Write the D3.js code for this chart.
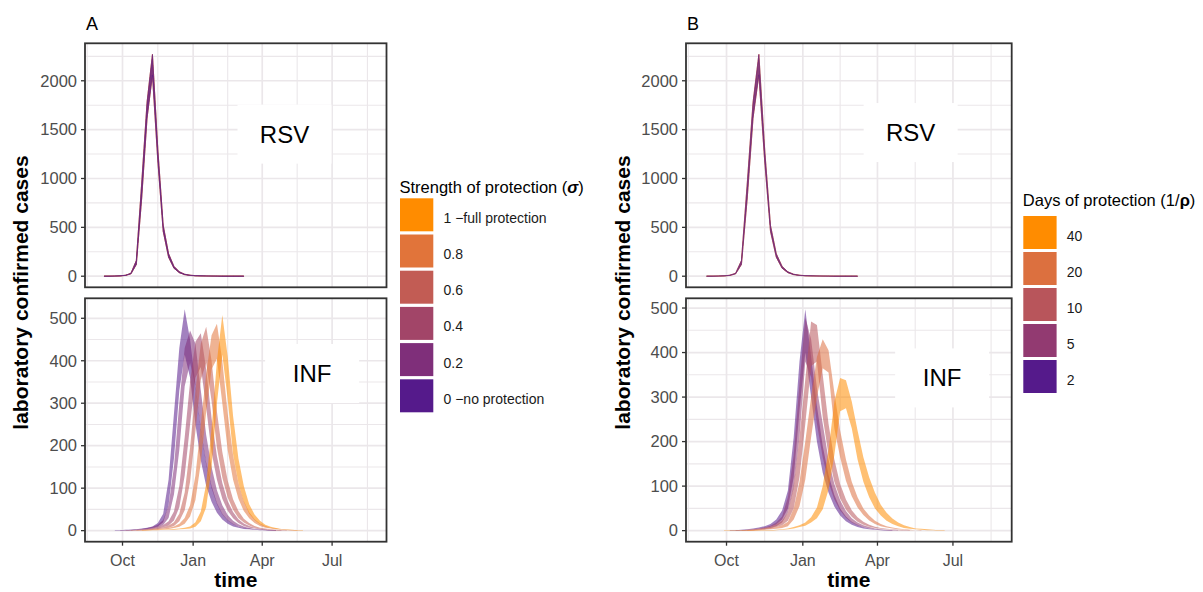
<!DOCTYPE html>
<html>
<head>
<meta charset="utf-8">
<script src="https://cdn.jsdelivr.net/npm/d3@7"></script>
<style>
  body { margin: 0; background: #fff; }
  svg { display: block; font-family: "Liberation Sans", Arial, Helvetica, sans-serif; }
</style>
</head>
<body>
<svg id="chart" width="1203" height="592"></svg>
<script>
// weekly time grid: 31 Aug 2016 .. 23 Aug 2017 (52 weeks)
const weeks = d3.timeDay.range(new Date(2016, 7, 31), new Date(2017, 7, 24), 7);

// RSV (same in every scenario), upper / lower band
const rsvHi = [0,1,1,2,4,10,30,160,950,1780,2270,1300,520,
  230,100,45,20,10,6,4,3,2,1,1,1,1,
  1,1,0,0,0,0,0,0,0,0,0,0,0,
  0,0,0,0,0,0,0,0,0,0,0,0,0];
const rsvLo = [0,0,0,1,3,8,24,120,800,1620,2060,1180,460,
  195,82,36,16,8,4,3,2,1,1,0,0,0,
  0,0,0,0,0,0,0,0,0,0,0,0,0,
  0,0,0,0,0,0,0,0,0,0,0,0,0];

// panel A: strength of protection (sigma)
const sigmaLevels = [0, 0.2, 0.4, 0.6, 0.8, 1];
const sigmaLabels = ["0 \u2212no protection", "0.2", "0.4", "0.6", "0.8", "1 \u2212full protection"];

const infSigma0Hi = [0,0,0,1,1,2,2,3,5,7,10,18,40,
  120,275,430,521,450,345,240,160,105,65,40,25,16,
  10,7,5,3,2,2,1,1,0,0,0,0,0,
  0,0,0,0,0,0,0,0,0,0,0,0,0];
const infSigma0Lo = [0,0,0,0,0,1,1,2,3,4,6,10,20,
  60,170,330,415,360,250,165,105,68,42,26,16,10,
  7,4,3,2,1,1,0,0,0,0,0,0,0,
  0,0,0,0,0,0,0,0,0,0,0,0,0];
const infSigma02Hi = [0,0,0,0,1,1,2,3,4,6,9,14,25,
  60,150,300,430,471,440,330,225,150,95,60,37,23,
  15,10,6,4,3,2,1,1,0,0,0,0,0,
  0,0,0,0,0,0,0,0,0,0,0,0,0];
const infSigma02Lo = [0,0,0,0,0,0,1,2,2,3,5,8,13,
  30,85,190,340,395,340,235,155,100,62,38,24,15,
  10,6,4,3,2,1,0,0,0,0,0,0,0,
  0,0,0,0,0,0,0,0,0,0,0,0,0];
const infSigma04Hi = [0,0,0,0,0,1,1,2,3,4,6,9,13,
  22,45,105,220,350,445,465,380,265,175,112,70,44,
  27,17,11,7,5,3,2,1,1,0,0,0,0,
  0,0,0,0,0,0,0,0,0,0,0,0,0];
const infSigma04Lo = [0,0,0,0,0,0,0,1,2,2,3,5,8,
  12,24,55,130,250,360,385,290,185,120,75,47,29,
  18,11,7,5,3,2,1,0,0,0,0,0,0,
  0,0,0,0,0,0,0,0,0,0,0,0,0];
const infSigma06Hi = [0,0,0,0,0,0,1,1,2,3,4,6,8,
  12,20,40,90,195,330,440,480,400,280,185,118,74,
  46,28,18,11,7,5,3,2,1,1,0,0,0,
  0,0,0,0,0,0,0,0,0,0,0,0,0];
const infSigma06Lo = [0,0,0,0,0,0,0,0,1,2,2,3,5,
  7,11,22,48,115,235,355,395,305,195,125,78,49,
  30,19,12,7,5,3,2,1,0,0,0,0,0,
  0,0,0,0,0,0,0,0,0,0,0,0,0];
const infSigma08Hi = [0,0,0,0,0,0,0,1,1,2,3,4,5,
  7,10,16,30,60,130,250,370,460,487,400,275,178,
  112,70,43,27,17,11,7,5,3,2,1,1,0,
  0,0,0,0,0,0,0,0,0,0,0,0,0];
const infSigma08Lo = [0,0,0,0,0,0,0,0,0,1,2,2,3,
  4,6,9,16,33,72,160,280,380,405,300,190,120,
  75,46,29,18,11,7,5,3,2,1,0,0,0,
  0,0,0,0,0,0,0,0,0,0,0,0,0];
const infSigma1Hi = [0,0,0,0,0,0,0,0,1,1,2,2,3,
  3,4,5,7,10,20,45,110,240,400,508,410,270,
  170,105,62,38,23,14,9,6,4,3,2,1,1,
  0,0,0,0,0,0,0,0,0,0,0,0,0];
const infSigma1Lo = [0,0,0,0,0,0,0,0,0,0,1,1,2,
  2,2,3,4,5,9,22,55,150,300,415,310,180,
  112,68,40,25,15,9,6,4,3,2,1,0,0,
  0,0,0,0,0,0,0,0,0,0,0,0,0];

// panel B: days of protection (1/rho)
const daysLevels = [2, 5, 10, 20, 40];

const infDays2Hi = [0,0,0,0,0,1,1,2,3,5,7,10,15,
  25,45,90,210,380,497,390,280,190,125,80,50,32,
  20,13,8,5,3,2,1,1,0,0,0,0,0,
  0,0,0,0,0,0,0,0,0,0,0,0,0];
const infDays2Lo = [0,0,0,0,0,0,0,1,2,3,4,6,9,
  14,25,50,120,270,400,300,200,130,85,54,34,21,
  13,8,5,3,2,1,0,0,0,0,0,0,0,
  0,0,0,0,0,0,0,0,0,0,0,0,0];
const infDays5Hi = [0,0,0,0,0,0,1,1,2,3,5,7,11,
  18,32,75,170,330,478,430,320,240,160,105,68,44,
  28,18,12,8,5,3,2,1,1,0,0,0,0,
  0,0,0,0,0,0,0,0,0,0,0,0,0];
const infDays5Lo = [0,0,0,0,0,0,0,0,1,2,3,4,6,
  10,18,40,95,210,380,345,240,165,108,70,45,29,
  18,12,8,5,3,2,1,0,0,0,0,0,0,
  0,0,0,0,0,0,0,0,0,0,0,0,0];
const infDays10Hi = [0,0,0,0,0,0,0,1,2,3,4,6,9,
  14,22,40,100,210,340,470,462,350,240,160,105,70,
  46,30,20,13,9,6,4,3,2,1,1,0,0,
  0,0,0,0,0,0,0,0,0,0,0,0,0];
const infDays10Lo = [0,0,0,0,0,0,0,0,0,1,2,3,5,
  8,12,22,50,120,240,370,380,255,170,110,72,47,
  31,20,13,9,6,4,3,2,1,0,0,0,0,
  0,0,0,0,0,0,0,0,0,0,0,0,0];
const infDays20Hi = [0,0,0,0,0,0,0,0,1,2,3,4,6,
  8,12,20,50,110,200,300,390,430,405,310,225,160,
  110,75,50,34,22,15,10,7,5,3,2,1,1,
  0,0,0,0,0,0,0,0,0,0,0,0,0];
const infDays20Lo = [0,0,0,0,0,0,0,0,0,0,1,2,3,
  4,6,10,25,55,115,210,300,365,355,230,165,112,
  77,52,35,23,15,10,7,5,3,2,1,1,0,
  0,0,0,0,0,0,0,0,0,0,0,0,0];
const infDays40Hi = [0,0,0,0,1,1,1,1,1,1,1,1,1,
  2,3,5,8,12,18,30,52,100,180,290,343,338,
  290,225,165,120,85,58,40,27,18,12,8,5,4,
  3,2,1,1,0,0,0,0,0,0,0,0,0];
const infDays40Lo = [0,0,0,0,0,0,0,0,0,0,0,0,0,
  1,2,3,5,8,11,18,28,48,92,170,268,275,
  230,160,110,75,50,34,22,15,10,6,4,3,2,
  1,1,0,0,0,0,0,0,0,0,0,0,0];

const infSigmaHi = [infSigma0Hi, infSigma02Hi, infSigma04Hi, infSigma06Hi, infSigma08Hi, infSigma1Hi];
const infSigmaLo = [infSigma0Lo, infSigma02Lo, infSigma04Lo, infSigma06Lo, infSigma08Lo, infSigma1Lo];
const infDaysHi = [infDays2Hi, infDays5Hi, infDays10Hi, infDays20Hi, infDays40Hi];
const infDaysLo = [infDays2Lo, infDays5Lo, infDays10Lo, infDays20Lo, infDays40Lo];

// facet label anchors (date, value)
const labelSpots = {
  A: { RSV: [new Date(2017, 3, 30), 1454], INF: [new Date(2017, 5, 5), 370] },
  B: { RSV: [new Date(2017, 4, 11), 1470], INF: [new Date(2017, 5, 18), 343] }
};

const sigmaColour = d3.scaleLinear().domain([0, 1]).range(["#551A8B", "#FF8C00"]).interpolate(d3.interpolateLab);
const daysColour = d3.scaleLog().domain([2, 40]).range(["#551A8B", "#FF8C00"]).interpolate(d3.interpolateLab);

const svg = d3.select("#chart");
const gridColour = "#EBE7EA";
const rowTop = [43.3, 287.3];
const rowBottom = [298.3, 541.7];

const ext = d3.extent(weeks);
const pad = (ext[1] - ext[0]) * 0.05;
const xDomain = [new Date(+ext[0] - pad), new Date(+ext[1] + pad)];

function toSeries(hi, lo) {
  return weeks.map((d, i) => ({ date: d, hi: hi[i], lo: lo[i] }));
}

function drawPanel(x, rows, ribbons, isTop, spot, name, left, right) {
  const [top, bottom] = rows;
  const maxVal = d3.max(ribbons, (r) => d3.max(r.data, (d) => d.hi));
  const y = d3.scaleLinear().domain([-0.05 * maxVal, 1.05 * maxVal]).range([bottom, top]);
  const g = svg.append("g");

  const yTicks = y.ticks(5);
  const step = yTicks[1] - yTicks[0];
  const yMinor = [yTicks[0] - step / 2].concat(yTicks.map((t) => t + step / 2))
    .filter((v) => v > y.domain()[0] && v < y.domain()[1]);

  const xMajorAll = d3.timeMonth.every(3).range(new Date(2016, 6, 1), new Date(2017, 9, 2));
  const xMinor = d3.pairs(xMajorAll, (a, b) => new Date((+a + +b) / 2))
    .filter((d) => d > xDomain[0] && d < xDomain[1]);
  const xTicks = x.ticks(d3.timeMonth.every(3));

  g.selectAll(".ymin").data(yMinor).join("line")
    .attr("x1", left).attr("x2", right)
    .attr("y1", (d) => y(d)).attr("y2", (d) => y(d))
    .attr("stroke", gridColour).attr("stroke-width", 1.1);
  g.selectAll(".xmin").data(xMinor).join("line")
    .attr("x1", (d) => x(d)).attr("x2", (d) => x(d))
    .attr("y1", top).attr("y2", bottom)
    .attr("stroke", gridColour).attr("stroke-width", 1.1);
  g.append("g").selectAll("line").data(yTicks).join("line")
    .attr("x1", left).attr("x2", right)
    .attr("y1", (d) => y(d)).attr("y2", (d) => y(d))
    .attr("stroke", gridColour).attr("stroke-width", 1.7);
  g.append("g").selectAll("line").data(xTicks).join("line")
    .attr("x1", (d) => x(d)).attr("x2", (d) => x(d))
    .attr("y1", top).attr("y2", bottom)
    .attr("stroke", gridColour).attr("stroke-width", 1.7);

  const area = d3.area()
    .defined((d) => d.hi > 0)
    .x((d) => x(d.date))
    .y0((d) => y(d.lo))
    .y1((d) => y(d.hi));

  g.append("g").selectAll("path").data(ribbons).join("path")
    .attr("d", (r) => area(r.data))
    .attr("fill", (r) => r.colour)
    .attr("fill-opacity", isTop ? 0.45 : 0.55)
    .attr("stroke", (r) => (isTop ? r.colour : "none"))
    .attr("stroke-opacity", 0.35)
    .attr("stroke-width", 0.9);

  // facet label
  const cx = x(spot[0]);
  const cy = y(spot[1]);
  g.append("rect")
    .attr("x", cx - 47).attr("y", cy - 29.5)
    .attr("width", 94).attr("height", 59)
    .attr("fill", "#fff");
  g.append("text")
    .attr("x", cx).attr("y", cy + 8.5)
    .attr("text-anchor", "middle")
    .attr("font-size", 24)
    .attr("fill", "#000")
    .text(name);

  g.append("rect")
    .attr("x", left).attr("y", top)
    .attr("width", right - left).attr("height", bottom - top)
    .attr("fill", "none").attr("stroke", "#333").attr("stroke-width", 1.8);

  // y axis
  g.append("g").selectAll("line").data(yTicks).join("line")
    .attr("x1", left - 4).attr("x2", left)
    .attr("y1", (d) => y(d)).attr("y2", (d) => y(d))
    .attr("stroke", "#333").attr("stroke-width", 1.3);
  g.append("g").selectAll("text").data(yTicks).join("text")
    .attr("x", left - 8)
    .attr("y", (d) => y(d) + 5.8)
    .attr("text-anchor", "end")
    .attr("font-size", 16.5)
    .attr("fill", "#4D4D4D")
    .text((d) => d);

  if (!isTop) {
    g.append("g").selectAll("line").data(xTicks).join("line")
      .attr("x1", (d) => x(d)).attr("x2", (d) => x(d))
      .attr("y1", bottom).attr("y2", bottom + 4)
      .attr("stroke", "#333").attr("stroke-width", 1.3);
    g.append("g").selectAll("text").data(xTicks).join("text")
      .attr("x", (d) => x(d))
      .attr("y", bottom + 24.5)
      .attr("text-anchor", "middle")
      .attr("font-size", 16)
      .attr("fill", "#4D4D4D")
      .text(d3.timeFormat("%b"));
  }
}

function drawColumn(cfg) {
  const x = d3.scaleTime().domain(xDomain).range([cfg.left, cfg.right]);

  const rsvRibbons = cfg.levels.slice().reverse()
    .map((lv) => ({ colour: cfg.colour(lv), data: toSeries(rsvHi, rsvLo) }));
  const infRibbons = cfg.levels
    .map((lv, i) => ({ colour: cfg.colour(lv), data: toSeries(cfg.hi[i], cfg.lo[i]) }));

  drawPanel(x, rowTop, rsvRibbons, true, labelSpots[cfg.id].RSV, "RSV", cfg.left, cfg.right);
  drawPanel(x, rowBottom, infRibbons, false, labelSpots[cfg.id].INF, "INF", cfg.left, cfg.right);

  svg.append("text")
    .attr("x", cfg.left + 1).attr("y", 29.5)
    .attr("font-size", 18)
    .text(cfg.id);

  svg.append("text")
    .attr("transform", `translate(${cfg.yTitleX},292.5) rotate(-90)`)
    .attr("text-anchor", "middle")
    .attr("font-size", 21)
    .attr("font-weight", "bold")
    .text("laboratory confirmed cases");

  svg.append("text")
    .attr("x", (cfg.left + cfg.right) / 2).attr("y", 587)
    .attr("text-anchor", "middle")
    .attr("font-size", 21)
    .attr("font-weight", "bold")
    .text("time");

  // legend
  const lg = svg.append("g");
  const title = lg.append("text")
    .attr("x", cfg.legendX - 0.5).attr("y", cfg.legendTitleY)
    .attr("font-size", 16.5);
  title.append("tspan").text(cfg.legendTitle[0]);
  title.append("tspan").attr("font-weight", "bold").attr("font-style", cfg.symbolItalic ? "italic" : null).text(cfg.legendTitle[1]);
  title.append("tspan").text(cfg.legendTitle[2]);

  const keys = cfg.levels.map((lv, i) => ({ lv, label: cfg.labels[i] })).reverse();
  lg.selectAll("rect").data(keys).join("rect")
    .attr("x", cfg.legendX)
    .attr("y", (d, i) => cfg.keyTop + i * cfg.keyPitch)
    .attr("width", 33.3).attr("height", 33)
    .attr("fill", (d) => cfg.colour(d.lv));
  lg.selectAll(".lab").data(keys).join("text")
    .attr("x", cfg.legendX + 43.5)
    .attr("y", (d, i) => cfg.keyTop + i * cfg.keyPitch + 16.5 + 8)
    .attr("font-size", 14)
    .attr("fill", "#1a1a1a")
    .text((d) => d.label);
}

drawColumn({
  id: "A", left: 85, right: 386.5, yTitleX: 28,
  levels: sigmaLevels, labels: sigmaLabels, colour: sigmaColour,
  hi: infSigmaHi, lo: infSigmaLo,
  legendX: 400, legendTitleY: 192.7, keyTop: 198.3, keyPitch: 36.2,
  legendTitle: ["Strength of protection (", "\u03C3", ")"], symbolItalic: true
});

drawColumn({
  id: "B", left: 686, right: 1011.7, yTitleX: 630,
  levels: daysLevels, labels: daysLevels.map(String), colour: daysColour,
  hi: infDaysHi, lo: infDaysLo,
  legendX: 1023.3, legendTitleY: 206, keyTop: 216, keyPitch: 36,
  legendTitle: ["Days of protection (1/", "\u03C1", ")"], symbolItalic: false
});
</script>
</body>
</html>
